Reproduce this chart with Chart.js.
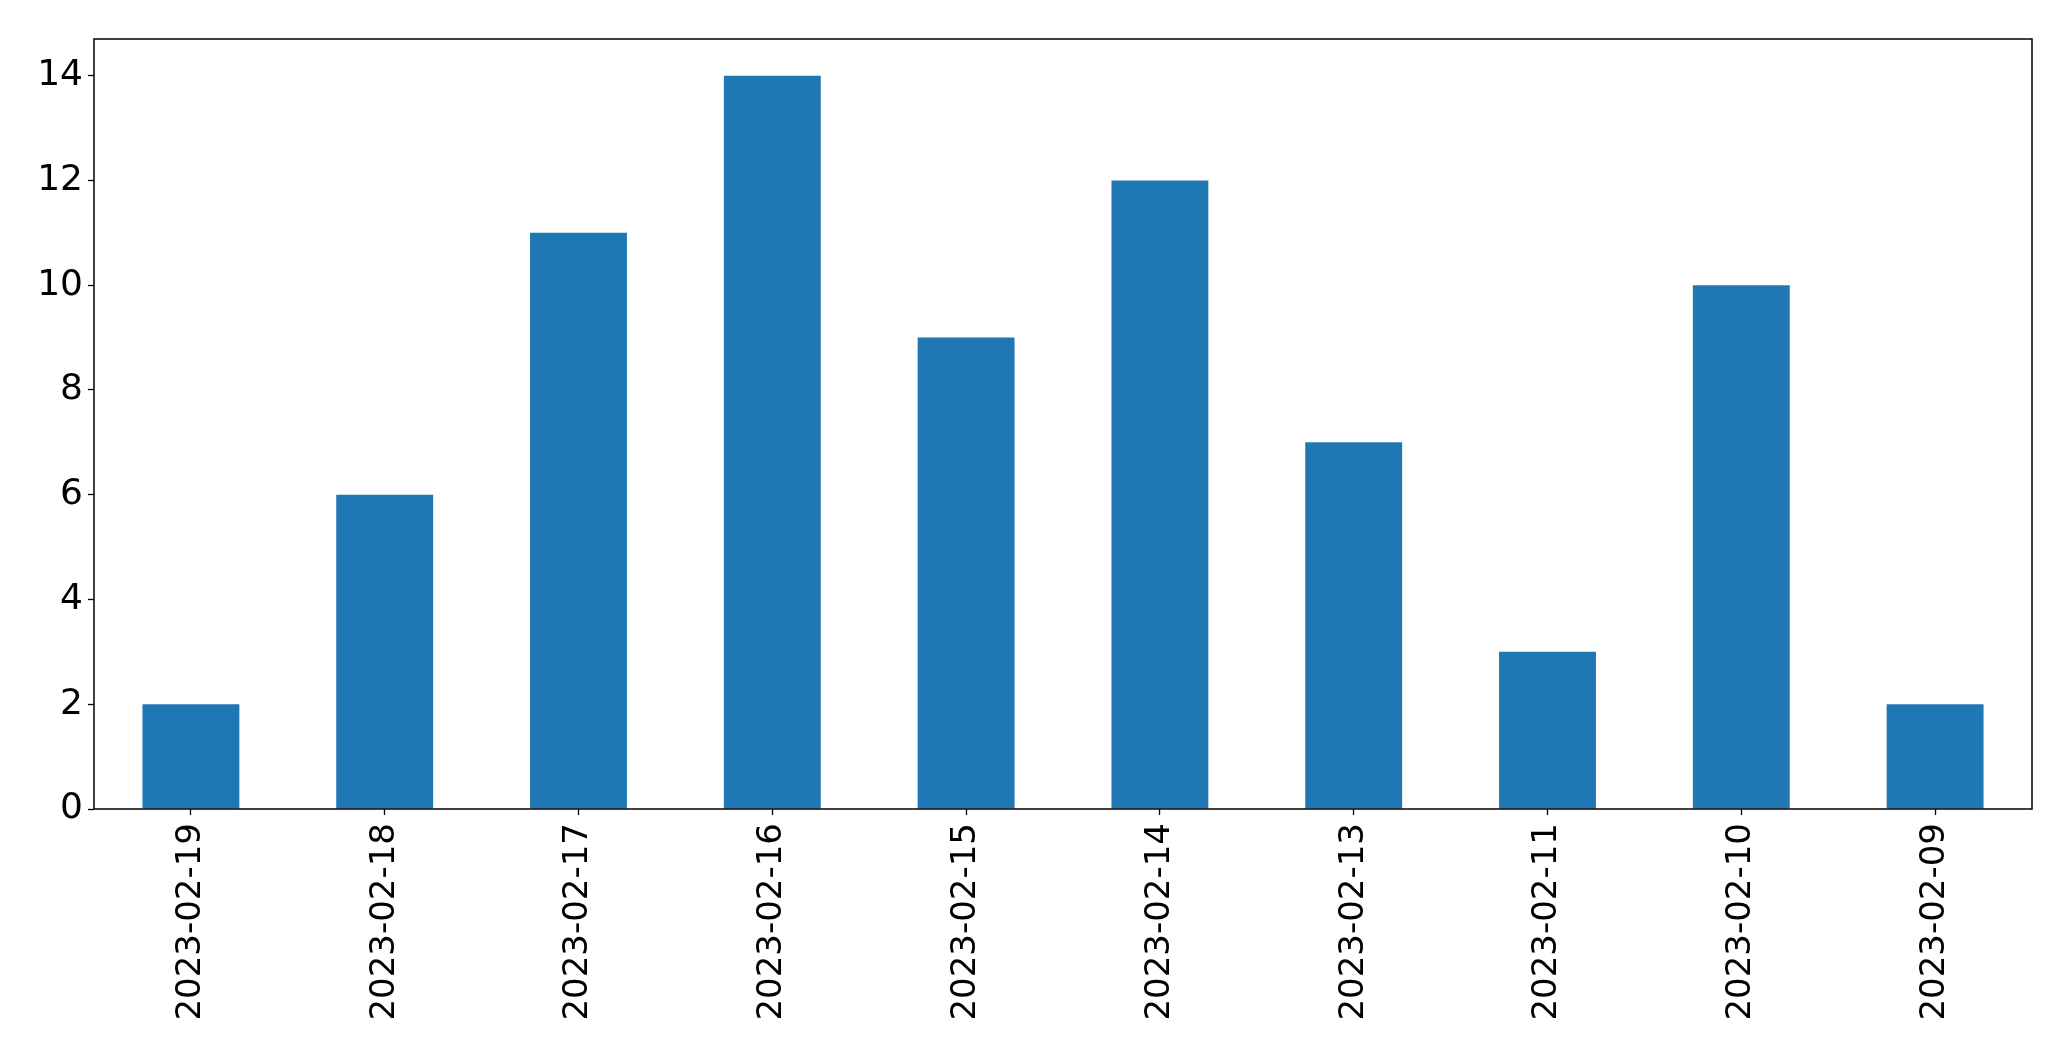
<!DOCTYPE html>
<html>
<head>
<meta charset="utf-8">
<script src="https://cdn.jsdelivr.net/npm/chart.js@4"></script>
<style>
  html, body { margin: 0; padding: 0; background: #fff; }
  canvas { display: block; }
</style>
</head>
<body>
<canvas id="chart" width="2071" height="1061"></canvas>
<script>
const dates = [
  "2023-02-19", "2023-02-18", "2023-02-17", "2023-02-16", "2023-02-15",
  "2023-02-14", "2023-02-13", "2023-02-11", "2023-02-10", "2023-02-09"
];
const counts = [2, 6, 11, 14, 9, 12, 7, 3, 10, 2];
const yTicks = [0, 2, 4, 6, 8, 10, 12, 14];

// frame around the plot area like matplotlib
const frame = {
  id: "frame",
  afterDraw(chart) {
    const { ctx, chartArea: a } = chart;
    ctx.save();
    ctx.strokeStyle = "#000";
    ctx.lineWidth = 1.5;
    ctx.strokeRect(a.left, a.top, a.right - a.left, a.bottom - a.top);
    ctx.restore();
  },
};

new Chart(document.getElementById("chart"), {
  type: "bar",
  data: {
    labels: dates,
    datasets: [{
      data: counts,
      backgroundColor: "#1f77b4",
      categoryPercentage: 1,
      barPercentage: 0.5,
    }],
  },
  options: {
    responsive: false,
    animation: false,
    layout: { padding: { top: 39, right: 39, left: 0, bottom: 0 } },
    plugins: { legend: { display: false }, tooltip: { enabled: false } },
    scales: {
      x: {
        offset: true,
        grid: { offset: false, drawOnChartArea: false, tickLength: 6, tickColor: "#000", tickWidth: 1.3 },
        border: { display: false },
        ticks: {
          autoSkip: false, minRotation: 90, maxRotation: 90, padding: 8,
          color: "#000", font: { family: "DejaVu Sans", size: 34 },
        },
        afterFit: (s) => { s.height = 252; },
      },
      y: {
        min: 0,
        max: 14.7,
        grid: { drawOnChartArea: false, tickLength: 6, tickColor: "#000", tickWidth: 1.3 },
        border: { display: false },
        ticks: { padding: 5, color: "#000", font: { family: "DejaVu Sans", size: 36 } },
        afterBuildTicks: (s) => { s.ticks = yTicks.map((v) => ({ value: v })); },
        afterFit: (s) => { s.width = 94; },
      },
    },
  },
  plugins: [frame],
});
</script>
</body>
</html>
